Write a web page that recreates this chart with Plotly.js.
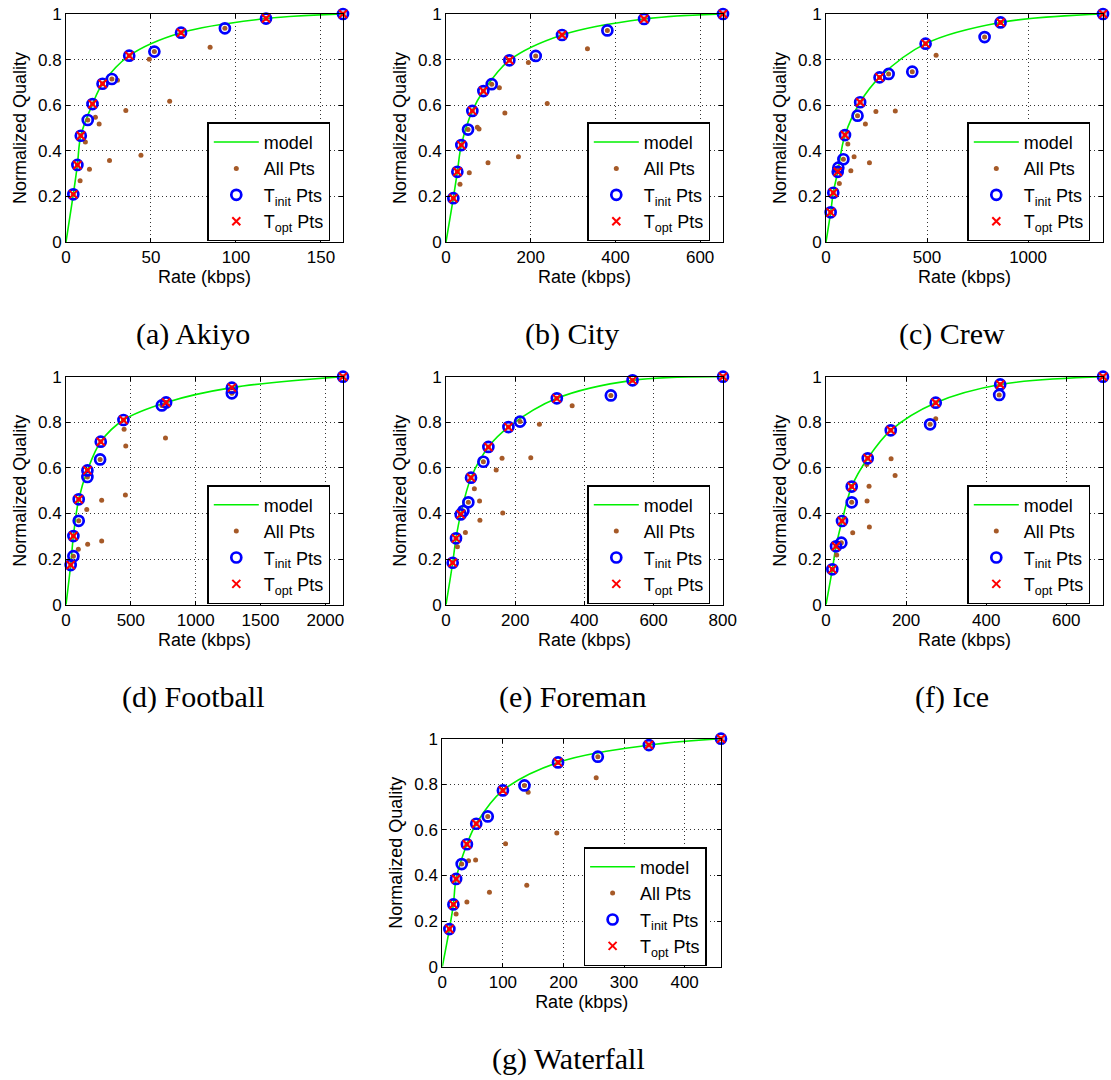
<!DOCTYPE html>
<html>
<head>
<meta charset="utf-8">
<script src="https://cdn.plot.ly/plotly-3.0.1.min.js"></script>
<style>html,body{margin:0;padding:0;background:#fff;}#chart{width:1111px;height:1080px;}</style>
</head>
<body>
<div id="chart"></div>
<script>
// ---------- DATA ----------
const seqNames = ["(a) Akiyo", "(b) City", "(c) Crew", "(d) Football", "(e) Foreman", "(f) Ice", "(g) Waterfall"];
const xTickStep = [50, 200, 500, 500, 200, 200, 100];
const qTicks = [0, 0.2, 0.4, 0.6, 0.8, 1];

// Akiyo
const akiyoOptR = [4.3, 6.7, 8.7, 15.6, 21.5, 37.2, 67.7, 117.7, 163];
const akiyoOptQ = [0.209, 0.338, 0.466, 0.605, 0.694, 0.817, 0.918, 0.980, 1.0];
const akiyoInitR = [12.8, 27.0, 52.0, 93.5];
const akiyoInitQ = [0.535, 0.715, 0.835, 0.937];
const akiyoOtherR = [8.3, 13.8, 11.4, 17.3, 19.5, 25.6, 30.3, 35.2, 44.1, 49.0, 61.0, 84.8];
const akiyoOtherQ = [0.269, 0.319, 0.439, 0.547, 0.518, 0.358, 0.709, 0.577, 0.380, 0.801, 0.617, 0.854];
const akiyoModelR = [0, 4.3, 6.7, 8.7, 15.6, 21.5, 37.2, 67.7, 117.7, 163];
const akiyoModelQ = [0, 0.209, 0.338, 0.466, 0.605, 0.694, 0.817, 0.918, 0.980, 1.0];

// City
const cityOptR = [17.3, 26.8, 36.2, 62.2, 88.2, 149.6, 274, 467.7, 654];
const cityOptQ = [0.192, 0.308, 0.425, 0.575, 0.662, 0.797, 0.908, 0.978, 1.0];
const cityInitR = [52, 107.9, 211.8, 381];
const cityInitQ = [0.493, 0.692, 0.816, 0.928];
const cityOtherR = [33, 55, 74, 78, 99.2, 126, 139, 171, 194.5, 239, 334];
const cityOtherQ = [0.253, 0.304, 0.503, 0.496, 0.348, 0.677, 0.566, 0.374, 0.787, 0.608, 0.848];
const cityModelR = [0, 17.3, 26.8, 36.2, 62.2, 88.2, 149.6, 274, 467.7, 654];
const cityModelQ = [0, 0.192, 0.308, 0.425, 0.575, 0.662, 0.797, 0.908, 0.978, 1.0];

// Crew
const crewOptR = [23, 36, 58, 94, 169, 265, 493, 864, 1371];
const crewOptQ = [0.130, 0.216, 0.308, 0.469, 0.613, 0.722, 0.870, 0.963, 1.0];
const crewInitR = [61, 86, 156, 310, 427, 785];
const crewInitQ = [0.326, 0.363, 0.554, 0.737, 0.747, 0.899];
const crewOtherR = [66, 123, 108, 139, 195, 215, 247, 343, 545];
const crewOtherQ = [0.257, 0.313, 0.430, 0.374, 0.518, 0.348, 0.572, 0.575, 0.819];
const crewModelR = [0, 23, 36, 58, 94, 169, 265, 493, 864, 1371];
const crewModelQ = [0, 0.130, 0.216, 0.308, 0.469, 0.613, 0.722, 0.870, 0.963, 1.0];

// Football
const footballOptR = [36, 57, 98, 165, 268, 443, 772, 1279, 2136];
const footballOptQ = [0.174, 0.301, 0.462, 0.589, 0.715, 0.810, 0.887, 0.952, 1.0];
const footballInitR = [57, 98, 165, 263, 739, 1279];
const footballInitQ = [0.213, 0.368, 0.560, 0.637, 0.874, 0.927];
const footballOtherR = [95, 167, 275, 160, 275, 458, 461, 448, 767];
const footballOtherQ = [0.243, 0.265, 0.279, 0.418, 0.458, 0.481, 0.696, 0.769, 0.731];
const footballModelR = [0, 36, 57, 98, 165, 268, 443, 772, 1279, 2136];
const footballModelQ = [0, 0.174, 0.301, 0.462, 0.589, 0.715, 0.810, 0.887, 0.952, 1.0];

// Foreman
const foremanOptR = [19.3, 28.9, 42.4, 72.3, 122.5, 180.4, 320.3, 539.2, 800.6];
const foremanOptQ = [0.184, 0.291, 0.396, 0.557, 0.692, 0.779, 0.905, 0.984, 1.0];
const foremanInitR = [50.2, 64.6, 108, 214, 476.5];
const foremanInitQ = [0.411, 0.449, 0.627, 0.803, 0.918];
const foremanOtherR = [33, 56, 98, 97, 82, 164, 145, 162, 245, 270, 364.6];
const foremanOtherQ = [0.254, 0.317, 0.370, 0.455, 0.509, 0.402, 0.591, 0.642, 0.645, 0.791, 0.873];
const foremanModelR = [0, 19.3, 28.9, 42.4, 72.3, 122.5, 180.4, 320.3, 539.2, 800.6];
const foremanModelQ = [0, 0.184, 0.291, 0.396, 0.557, 0.692, 0.779, 0.905, 0.984, 1.0];

// Ice
const iceOptR = [15.8, 25, 40, 64.2, 104.2, 161.7, 274, 435, 691.7];
const iceOptQ = [0.155, 0.256, 0.367, 0.518, 0.642, 0.765, 0.886, 0.966, 1.0];
const iceInitR = [38.3, 64.2, 260, 432.5];
const iceInitQ = [0.272, 0.449, 0.791, 0.920];
const iceOtherR = [26.7, 66.7, 108.3, 102.5, 107.5, 101.7, 162.5, 172.5, 274];
const iceOtherQ = [0.218, 0.316, 0.341, 0.455, 0.520, 0.615, 0.640, 0.567, 0.816];
const iceModelR = [0, 15.8, 25, 40, 64.2, 104.2, 161.7, 274, 435, 691.7];
const iceModelQ = [0, 0.155, 0.256, 0.367, 0.518, 0.642, 0.765, 0.886, 0.966, 1.0];

// Waterfall
const waterfallOptR = [11.7, 18.3, 22.8, 40.6, 56, 100, 191, 341, 460];
const waterfallOptQ = [0.165, 0.273, 0.385, 0.537, 0.627, 0.773, 0.896, 0.972, 1.0];
const waterfallInitR = [32, 75, 135.6, 256.7];
const waterfallInitQ = [0.450, 0.659, 0.795, 0.921];
const waterfallOtherR = [22.8, 40.6, 43.3, 55, 77.8, 104.4, 139.4, 141.7, 189, 254];
const waterfallOtherQ = [0.231, 0.284, 0.465, 0.468, 0.327, 0.539, 0.357, 0.765, 0.586, 0.829];
const waterfallModelR = [0, 11.7, 18.3, 22.8, 40.6, 56, 100, 191, 341, 460];
const waterfallModelQ = [0, 0.165, 0.273, 0.385, 0.537, 0.627, 0.773, 0.896, 0.972, 1.0];

const panels = [
  {optR: akiyoOptR, optQ: akiyoOptQ, initR: akiyoInitR, initQ: akiyoInitQ, otherR: akiyoOtherR, otherQ: akiyoOtherQ, modelR: akiyoModelR, modelQ: akiyoModelQ},
  {optR: cityOptR, optQ: cityOptQ, initR: cityInitR, initQ: cityInitQ, otherR: cityOtherR, otherQ: cityOtherQ, modelR: cityModelR, modelQ: cityModelQ},
  {optR: crewOptR, optQ: crewOptQ, initR: crewInitR, initQ: crewInitQ, otherR: crewOtherR, otherQ: crewOtherQ, modelR: crewModelR, modelQ: crewModelQ},
  {optR: footballOptR, optQ: footballOptQ, initR: footballInitR, initQ: footballInitQ, otherR: footballOtherR, otherQ: footballOtherQ, modelR: footballModelR, modelQ: footballModelQ},
  {optR: foremanOptR, optQ: foremanOptQ, initR: foremanInitR, initQ: foremanInitQ, otherR: foremanOtherR, otherQ: foremanOtherQ, modelR: foremanModelR, modelQ: foremanModelQ},
  {optR: iceOptR, optQ: iceOptQ, initR: iceInitR, initQ: iceInitQ, otherR: iceOtherR, otherQ: iceOtherQ, modelR: iceModelR, modelQ: iceModelQ},
  {optR: waterfallOptR, optQ: waterfallOptQ, initR: waterfallInitR, initQ: waterfallInitQ, otherR: waterfallOtherR, otherQ: waterfallOtherQ, modelR: waterfallModelR, modelQ: waterfallModelQ}
];

// ---------- LAYOUT GEOMETRY (pixels) ----------
const W = 1111, H = 1080;
const boxes = [ // [left, right, top, bottom]
  [66, 343, 14, 242], [446, 723, 14, 242], [826, 1103, 14, 242],
  [66, 343, 376.7, 604.7], [446, 723, 376.7, 604.7], [826, 1103, 376.7, 604.7],
  [442.3, 721, 738.7, 966.7]
];
const captionPos = [[193, 334], [572, 334], [952, 334], [193, 697], [572, 697], [952, 697], [568, 1059]];

const sansFont = "Liberation Sans, Arial, Helvetica, sans-serif";
const serifFont = "Liberation Serif, Times New Roman, serif";

const traces = [];
const layout = {
  width: W, height: H,
  margin: {l: 0, r: 0, t: 0, b: 0},
  paper_bgcolor: "#ffffff", plot_bgcolor: "#ffffff",
  showlegend: true,
  font: {family: sansFont, size: 17, color: "#000"},
  annotations: []
};

panels.forEach((p, i) => {
  const n = i + 1;
  const xa = "x" + (n === 1 ? "" : n), ya = "y" + (n === 1 ? "" : n);
  const lg = "legend" + (n === 1 ? "" : n);
  const initR = p.optR.concat(p.initR), initQ = p.optQ.concat(p.initQ);
  const allR = initR.concat(p.otherR), allQ = initQ.concat(p.otherQ);
  const xmax = Math.max.apply(null, p.optR);

  traces.push({type: "scatter", mode: "lines", name: "model", x: p.modelR, y: p.modelQ, cliponaxis: false,
    xaxis: xa, yaxis: ya, legend: lg, line: {color: "#00f000", width: 1.6, shape: "spline", smoothing: 1}, hoverinfo: "skip"});
  traces.push({type: "scatter", mode: "markers", name: "All Pts", x: allR, y: allQ, cliponaxis: false,
    xaxis: xa, yaxis: ya, legend: lg, marker: {color: "#a65a28", size: 5, symbol: "circle"}});
  traces.push({type: "scatter", mode: "markers", name: "T<sub>init</sub> Pts", x: initR, y: initQ, cliponaxis: false,
    xaxis: xa, yaxis: ya, legend: lg, marker: {color: "#0000ff", size: 10, symbol: "circle-open", line: {color: "#0000ff", width: 2.7}}});
  traces.push({type: "scatter", mode: "markers", name: "T<sub>opt</sub> Pts", x: p.optR, y: p.optQ, cliponaxis: false,
    xaxis: xa, yaxis: ya, legend: lg, marker: {color: "#ff0000", size: 8, symbol: "x-thin-open", line: {color: "#ff0000", width: 2}}});

  const b = boxes[i];
  const common = {
    showline: true, linecolor: "#000", linewidth: 1, mirror: "ticks",
    ticks: "inside", ticklen: 4, tickcolor: "#000", tickwidth: 1,
    showgrid: true, gridcolor: "#333", griddash: "1px,3px", gridwidth: 1,
    zeroline: false, tickfont: {family: sansFont, size: 17, color: "#000"}, fixedrange: true
  };
  layout["xaxis" + (n === 1 ? "" : n)] = Object.assign({}, common, {
    domain: [b[0] / W, b[1] / W], anchor: ya, range: [0, xmax],
    tick0: 0, dtick: xTickStep[i],
    title: {text: "Rate (kbps)", standoff: 3, font: {family: sansFont, size: 18, color: "#000"}}
  });
  layout["yaxis" + (n === 1 ? "" : n)] = Object.assign({}, common, {
    domain: [1 - b[3] / H, 1 - b[2] / H], anchor: xa, range: [0, 1],
    tickvals: qTicks,
    title: {text: "Normalized Quality", standoff: 6, font: {family: sansFont, size: 18, color: "#000"}}
  });
  layout[lg] = {
    x: (b[0] + 141.3) / W, y: 1 - (b[2] + 108.3) / H, xanchor: "left", yanchor: "top",
    xref: "paper", yref: "paper",
    bgcolor: "#ffffff", bordercolor: "#000", borderwidth: 1.5,
    font: {family: sansFont, size: 18, color: "#000"}, itemwidth: 45, tracegroupgap: 0
  };
  layout.annotations.push({
    text: seqNames[i], xref: "paper", yref: "paper",
    x: captionPos[i][0] / W, y: 1 - captionPos[i][1] / H, xanchor: "center", yanchor: "middle",
    showarrow: false, font: {family: serifFont, size: 30, color: "#000"}
  });
});

Plotly.newPlot("chart", traces, layout, {staticPlot: true, displayModeBar: false});
</script>
</body>
</html>
